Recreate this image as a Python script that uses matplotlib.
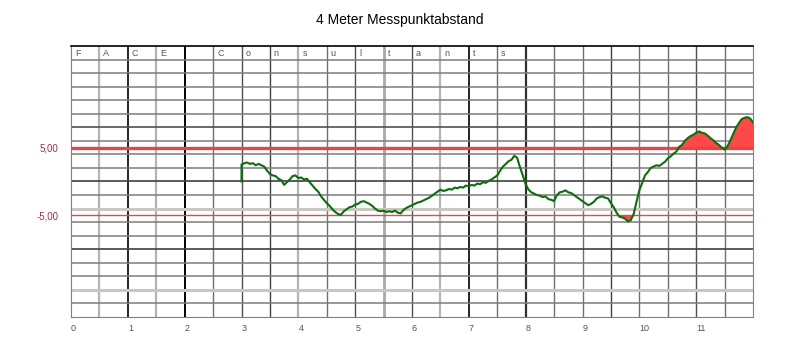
import numpy as np
import matplotlib
matplotlib.use('Agg')
import matplotlib.pyplot as plt

plt.rcParams['font.family'] = ['Liberation Sans', 'DejaVu Sans']

# measured profile, km 3.00 .. 12.00 every 0.05 km (first value = start at 0)
dist = np.concatenate([[3.0], np.arange(3.0, 12.0001, 0.05)])
values = [0.0,
    2.5, 2.7, 2.8, 2.6, 2.7, 2.4, 2.6, 2.4, 2.2, 1.6, 1.1, 0.9, 0.8, 0.4, 0.2, -0.5, -0.1, 0.3, 0.8, 0.9,
    0.5, 0.6, 0.3, 0.4, -0.1, -0.6, -1.1, -1.5, -2.2, -2.7, -3.2, -3.6, -4.1, -4.5, -4.8, -4.9, -4.4, -4.1, -3.8, -3.7,
    -3.4, -3.3, -3.0, -2.9, -3.1, -3.3, -3.6, -4.0, -4.3, -4.4, -4.3, -4.5, -4.4, -4.5, -4.3, -4.6, -4.7, -4.2, -3.9, -3.7,
    -3.5, -3.3, -3.1, -3.0, -2.8, -2.6, -2.4, -2.1, -1.8, -1.5, -1.2, -1.4, -1.3, -1.1, -1.2, -0.9, -1.0, -0.8, -0.9, -0.6,
    -0.7, -0.5, -0.6, -0.3, -0.4, -0.1, -0.2, 0.1, 0.3, 0.6, 0.9, 1.6, 2.2, 2.6, 3.0, 3.2, 3.8, 3.5, 2.1, 0.9,
    -0.4, -1.2, -1.6, -1.8, -2.0, -2.1, -2.3, -2.2, -2.6, -2.7, -2.9, -2.0, -1.6, -1.5, -1.3, -1.6, -1.7, -2.0, -2.3, -2.6,
    -2.9, -3.2, -3.5, -3.3, -3.0, -2.5, -2.3, -2.2, -2.4, -2.5, -3.2, -3.8, -4.6, -5.2, -5.3, -5.5, -5.9, -5.7, -4.8, -3.0,
    -1.3, -0.2, 0.9, 1.4, 2.0, 2.2, 2.4, 2.3, 2.6, 2.9, 3.4, 3.7, 4.1, 4.4, 5.1, 5.4, 6.0, 6.4, 6.7, 6.9,
    7.2, 7.4, 7.2, 7.1, 6.8, 6.4, 6.1, 5.7, 5.4, 5.0, 4.7, 5.2, 6.0, 7.0, 7.9, 8.6, 9.2, 9.4, 9.5, 9.3,
    8.7]
values = np.array(values)

upper_limit = 5.0
lower_limit = -5.0
letters = ['F', 'A', 'C', 'E', '', 'C', 'o', 'n', 's', 'u', 'l', 't', 'a', 'n', 't', 's']
x_labels = [str(i) for i in range(12)]

fig = plt.figure(figsize=(8, 3.48), dpi=100)
ax = fig.add_axes([0.08875, 0.0891, 0.8525, 0.7787])
ax.set_xlim(0, 12)
ax.set_ylim(-20, 20)

# vertical grid every 0.5 km, with the uneven shades of the original
vstyle = {1.0: ('#000000', 1.2), 2.0: ('#000000', 1.4), 7.0: ('#000000', 1.2),
          8.0: ('#303030', 1.6), 3.0: ('#505050', 1.0), 3.5: ('#404040', 1.0),
          5.0: ('#505050', 1.0), 6.0: ('#505050', 1.0), 9.5: ('#404040', 1.0),
          11.0: ('#505050', 1.0),
          0.5: ('#b4b4b4', 1.6), 1.5: ('#b4b4b4', 1.6), 4.0: ('#b4b4b4', 1.6),
          5.5: ('#a8a8a8', 2.0), 6.5: ('#b4b4b4', 1.6)}
for xv in np.arange(0.5, 12, 0.5):
    c, lw = vstyle.get(float(xv), ('#707070', 1.0))
    ax.axvline(xv, color=c, lw=lw, zorder=1)

hstyle = {8: ('#505050', 1.2), 0: ('#404040', 1.2), -10: ('#404040', 1.2),
          -4: ('#c8c8c0', 2.2), -16: ('#c8c8c0', 2.2)}
for yv in range(-18, 20, 2):
    c, lw = hstyle.get(yv, ('#7c7c7c', 1.1))
    ax.axhline(yv, color=c, lw=lw, zorder=1)

for i, ch in enumerate(letters):
    ax.text(0.5 * i + 0.07, 19.5, ch, fontsize=6.5, color='#555555',
            ha='left', va='top', zorder=2)

ax.fill_between(dist, values, upper_limit, where=values > upper_limit,
                interpolate=True, color='#ff4848', lw=0, zorder=3)
ax.fill_between(dist, values, lower_limit, where=values < lower_limit,
                interpolate=True, color='#ff4848', lw=0, zorder=3)
ax.axhline(upper_limit, color='#e04848', lw=2.4, zorder=4)
ax.axhline(lower_limit, color='#d05060', lw=1.0, zorder=4)
ax.plot(dist, values, color='#0c6e0c', lw=1.5, zorder=5)

ax.set_xticks(range(12))
ax.set_xticklabels(x_labels, fontsize=6.5, color='#555555', ha='left')
ax.set_yticks([upper_limit, lower_limit])
ax.set_yticklabels(['5,00', '-5,00'], fontsize=7, color='#a03040')
ax.tick_params(axis='both', length=0)
ax.tick_params(axis='x', pad=5)
ax.tick_params(axis='y', pad=9)

for side in ['left', 'bottom', 'right']:
    ax.spines[side].set_color('#808080')
ax.spines['top'].set_color('#000000')
ax.spines['top'].set_linewidth(1.2)

fig.text(0.5, 0.943, '4 Meter Messpunktabstand', ha='center', va='center',
         fontsize=10, color='#000000')

fig.savefig('out.png', dpi=100)
